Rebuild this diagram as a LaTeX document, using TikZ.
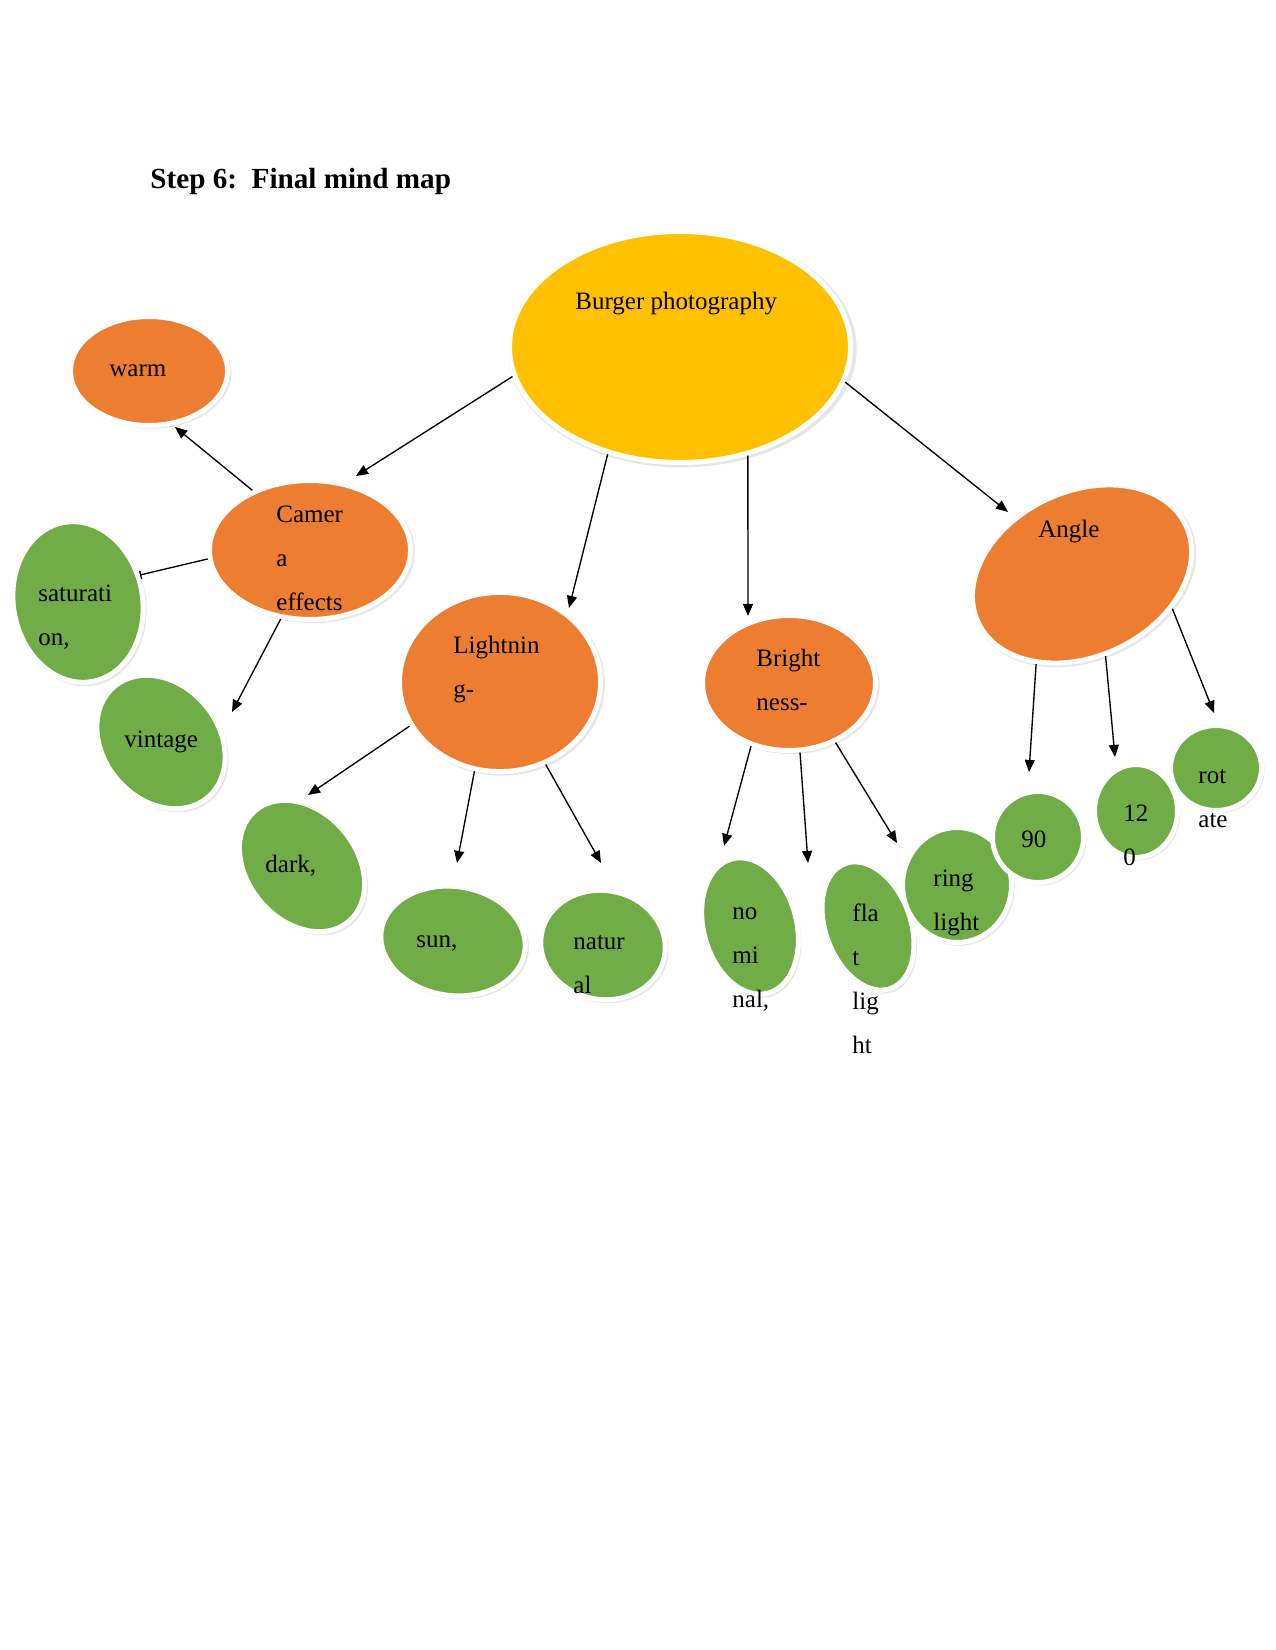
\documentclass[tikz,border=0pt]{standalone}
\usepackage{fontspec}
\setmainfont{Liberation Serif}
\usetikzlibrary{calc}
\usetikzlibrary{arrows.meta}
\usetikzlibrary{shapes.geometric}
\usetikzlibrary{shadows}
\definecolor{hubgold}{HTML}{FFC000}
\definecolor{branchorange}{HTML}{ED7D31}
\definecolor{leafgreen}{HTML}{70AD47}

\begin{document}
\begin{tikzpicture}[
      x=0.48pt, y=-0.48pt, >={Triangle[length=5.8pt,width=4.8pt]},
      blob/.style={ellipse, draw=white, line width=2.4pt, inner sep=0pt,
        drop shadow={shadow xshift=0.9pt, shadow yshift=-0.9pt, shadow scale=1.025, opacity=0.16, fill=black!60}},
      hub/.style={blob, fill=hubgold},
      branch/.style={blob, fill=branchorange},
      leaf/.style={blob, fill=leafgreen},
      lbl/.style={anchor=base west, inner sep=0pt, align=left, font=\fontsize{12}{21}\selectfont},
      link/.style={->, line width=0.65pt}]
      \useasboundingbox (0,0) rectangle (1275,1650);
      \node[anchor=base west, inner sep=0pt, font=\fontsize{14}{17}\selectfont\bfseries] (title) at (150,189) {Step 6:\ \ Final mind map};
      % centre of the map
      \node[hub, minimum width=163.7pt, minimum height=110.9pt] (burger) at (680,347) {};
      % first ring
      \node[branch, minimum width=96.5pt, minimum height=66.7pt] (cam) at (310,550) {};
      \node[branch, minimum width=96.5pt, minimum height=86pt] (light) at (500,682) {};
      \node[branch, minimum width=83pt, minimum height=64.8pt] (bright) at (789,683) {};
      \node[branch, minimum width=110pt, minimum height=79.2pt, rotate=25] (angle) at (1082,574) {};
      \node[branch, minimum width=75.4pt, minimum height=52.3pt] (warm) at (149,371) {};
      % leaves
      \node[leaf, minimum width=62pt, minimum height=77.5pt, rotate=10] (sat) at (78,602) {};
      \node[leaf, minimum width=55.2pt, minimum height=69.6pt, rotate=40] (vin) at (161,742) {};
      \node[leaf, minimum width=52.3pt, minimum height=69.6pt, rotate=40] (dark) at (302,866) {};
      \node[leaf, minimum width=69.6pt, minimum height=52.3pt, rotate=-8] (sun) at (453,941) {};
      \node[leaf, minimum width=60pt, minimum height=52.3pt, rotate=-10] (nat) at (603,945) {};
      \node[leaf, minimum width=44.6pt, minimum height=66.7pt, rotate=15] (nom) at (750,926) {};
      \node[leaf, minimum width=40.8pt, minimum height=63.8pt, rotate=20] (flat) at (868,926) {};
      \node[leaf, minimum width=52.3pt, minimum height=55.2pt] (ring) at (957,885) {};
      \node[leaf, minimum width=43.7pt, minimum height=43.7pt] (nine) at (1038,837) {};
      \node[leaf, minimum width=39.8pt, minimum height=44.6pt] (twelve) at (1136,811) {};
      \node[leaf, minimum width=43.7pt, minimum height=40.8pt] (rot) at (1216,768) {};
      % texts sit high and left, as typed (base = last line)
      \node[lbl] (burgerT) at (575,310) {Burger photography};
      \node[lbl] (warmT) at (109,377) {warm};
      \node[lbl] (camT) at (276,610) {Camer\\a\\effects};
      \node[lbl] (satT) at (38,645) {saturati\\on,};
      \node[lbl] (vinT) at (124,747) {vintage};
      \node[lbl] (darkT) at (265,872) {dark,};
      \node[lbl] (lightT) at (453,697) {Lightnin\\g-};
      \node[lbl] (sunT) at (416,947) {sun,};
      \node[lbl] (natT) at (573,993) {natur\\al};
      \node[lbl] (brightT) at (756,710) {Bright\\ness-};
      \node[lbl] (nomT) at (732,1007) {no\\mi\\nal,};
      \node[lbl] (flatT) at (852,1053) {fla\\t\\lig\\ht};
      \node[lbl] (ringT) at (933,930) {ring\\light};
      \node[lbl] (nineT) at (1021,847) {90};
      \node[lbl] (twelveT) at (1123,865) {12\\0};
      \node[lbl] (rotT) at (1198,827) {rot\\ate};
      \node[lbl] (angleT) at (1038,537) {Angle};
      % arrow tips stop short of the nodes
      \coordinate (camTip) at (356,476);
      \coordinate (lightTip) at (569,608);
      \coordinate (brightTip) at (748,616);
      \coordinate (angleTip) at (1008,512);
      \coordinate (warmTip) at (175,427);
      \coordinate (satTip) at (140,575);
      \coordinate (vinTip) at (232,712);
      \coordinate (darkTip) at (308,795);
      \coordinate (sunTip) at (457,863);
      \coordinate (natTip) at (601,863);
      \coordinate (nomTip) at (724,846);
      \coordinate (flatTip) at (808,863);
      \coordinate (ringTip) at (897,843);
      \coordinate (nineTip) at (1029,772);
      \coordinate (twelveTip) at (1115,757);
      \coordinate (rotTip) at (1214,713);
      \draw[link] (burger.190) -- (camTip);
      \draw[link] (burger.236) -- (lightTip);
      \draw[link] (burger.302) -- (brightTip);
      \draw[link] (burger.348) -- (angleTip);
      \draw[link] (cam.134) -- (warmTip);
      \draw[-{Bar[width=4pt]}, line width=0.65pt] (cam.185) -- (satTip);
      \draw[link] (cam.247) -- (vinTip);
      \draw[link] (light.206) -- (darkTip);
      \draw[link] (light.254) -- (sunTip);
      \draw[link] (light.299) -- (natTip);
      \draw[link] (bright.239) -- (nomTip);
      \draw[link] (bright.279) -- (flatTip);
      \draw[link] (bright.308) -- (ringTip);
      \draw[link] (angle.218) -- (nineTip);
      \draw[link] (angle.261) -- (twelveTip);
      \draw[link] (angle.314) -- (rotTip);
    \end{tikzpicture}
\end{document}
